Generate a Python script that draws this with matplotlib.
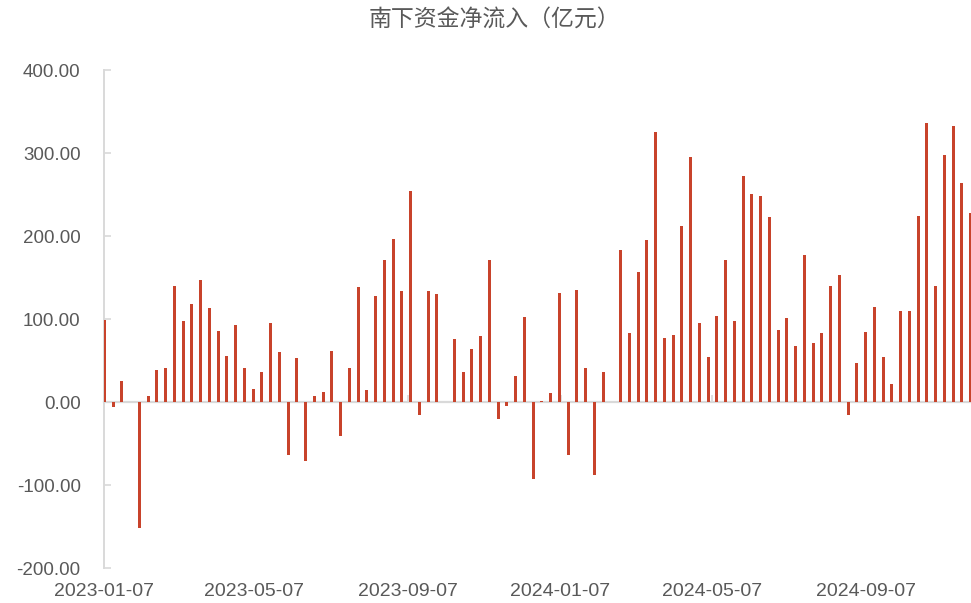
import numpy as np
import pandas as pd
import matplotlib
matplotlib.use("Agg")
import matplotlib.pyplot as plt

# Weekly southbound net inflow (100m CNY); None marks weeks the Connect was closed
week_start = "2023-01-07"
net_inflow = [
    99, -6, 26, None, -152, 7, 39, 41, 140, 98,
    118, 147, 114, 86, 56, 93, 41, 16, 36, 96,
    60, -64, 53, -71, 8, 12, 62, -41, 41, 139,
    15, 128, 171, 197, 134, 255, -15, 134, 130, None,
    76, 37, 64, 80, 171, -20, -5, 32, 103, -92,
    2, 11, 132, -64, 135, 41, -88, 36, None, 183,
    84, 157, 196, 326, 78, 81, 212, 295, 95, 55,
    104, 171, 98, 273, 251, 249, 223, 87, 101, 68,
    177, 72, 84, 140, 153, -15, 47, 85, 115, 55,
    22, 110, 110, 224, 336, 140, 298, 333, 264, 228,
]
tick_dates = ["2023-01-07", "2023-05-07", "2023-09-07",
              "2024-01-07", "2024-05-07", "2024-09-07"]
y_ticks = [-200, -100, 0, 100, 200, 300, 400]

BAR_COLOR = "#C8432B"
AXIS_COLOR = "#D9D9D9"
TEXT_COLOR = "#595959"

weeks = pd.date_range(week_start, periods=len(net_inflow), freq="7D")
vals = np.array([np.nan if v is None else v for v in net_inflow], dtype=float)
mask = ~np.isnan(vals)

W, H = 971, 603
fig = plt.figure(figsize=(W / 100, H / 100), dpi=100)
left, right = 104.3, 971.0
top, bottom = 70.3, 568.3
ax = fig.add_axes([left / W, (H - bottom) / H, (right - left) / W, (bottom - top) / H])

ax.bar(weeks[mask], vals[mask], width=2.4, color=BAR_COLOR, linewidth=0, zorder=3)

x0 = pd.Timestamp(week_start)
ax.set_xlim(x0, x0 + pd.Timedelta(days=(right - left) / 1.25))
ax.set_ylim(-200, 400)

# y axis: light grey line with inward ticks
ax.set_yticks(y_ticks)
ax.set_yticklabels([f"{v:.2f}" for v in y_ticks])
ax.tick_params(axis="y", direction="in", length=5, width=1.2, color=AXIS_COLOR,
               labelsize=13.5, labelcolor=TEXT_COLOR, pad=17)
for lab in ax.get_yticklabels():
    lab.set_fontfamily(["Liberation Sans", "DejaVu Sans"])

# x axis sits on the zero line, ticks point upward, labels go under the plot
ax.spines["bottom"].set_position(("data", 0))
ax.spines["bottom"].set_color(AXIS_COLOR)
ax.spines["bottom"].set_linewidth(1.6)
ax.spines["bottom"].set_zorder(2)
ax.spines["left"].set_color(AXIS_COLOR)
ax.spines["left"].set_linewidth(1.4)
ax.spines["top"].set_visible(False)
ax.spines["right"].set_visible(False)

tick_ts = pd.to_datetime(tick_dates)
ax.set_xticks(tick_ts)
ax.tick_params(axis="x", direction="in", length=5, width=1.2, color=AXIS_COLOR,
               labelbottom=False)
for d, s in zip(tick_ts, tick_dates):
    ax.text(d, -(591.5 - bottom) / (bottom - top), s, transform=ax.get_xaxis_transform(),
            ha="center", va="center", fontsize=14, color=TEXT_COLOR,
            family=["Liberation Sans", "DejaVu Sans"], clip_on=False)

fig.text(494 / W, 1 - 20 / H, "南下资金净流入（亿元）", ha="center", va="center",
         fontsize=16.5, color=TEXT_COLOR, family=["Noto Sans CJK SC", "DejaVu Sans"])

fig.savefig("out.png", dpi=100)
